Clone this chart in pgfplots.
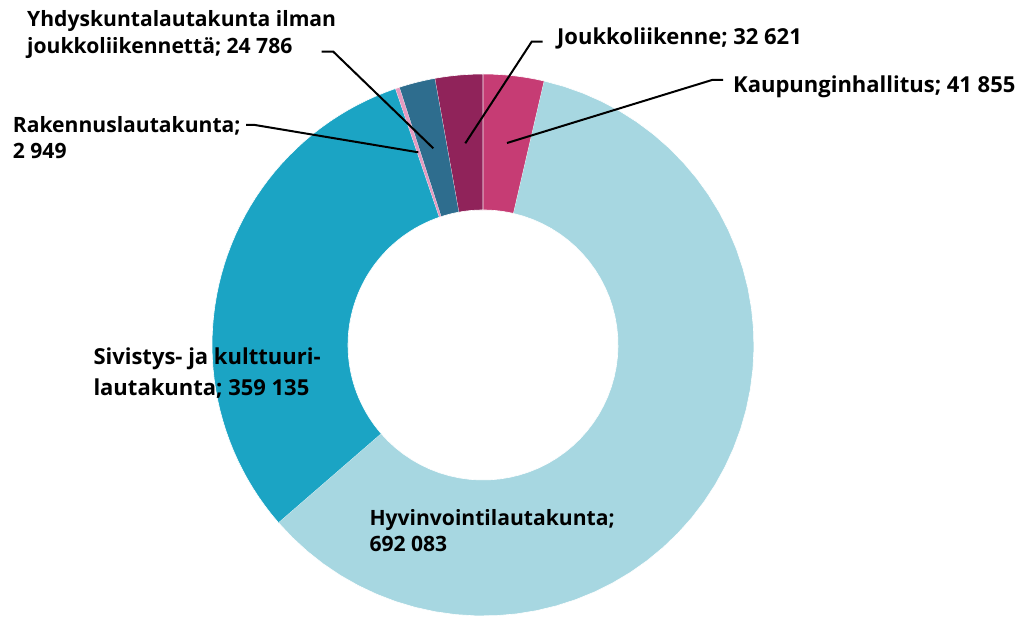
\documentclass[border=0pt]{standalone}
\usepackage{fontspec}
\setmainfont{Open Sans}
\usepackage{pgfplots}
\pgfplotsset{compat=1.18}
\usepackage{pgfplotstable}

\definecolor{cKaup}{HTML}{C63C74}
\definecolor{cHyv}{HTML}{A7D7E1}
\definecolor{cSiv}{HTML}{1BA4C4}
\definecolor{cRak}{HTML}{E59BC0}
\definecolor{cYhd}{HTML}{2E6D8E}
\definecolor{cJouk}{HTML}{90235A}

\pgfplotstableread{
label value
Kaupunginhallitus 41855
Hyvinvointilautakunta 692083
Sivistys 359135
Rakennus 2949
Yhdyskunta 24786
Joukkoliikenne 32621
}\datatable

\pgfplotstablegetelem{0}{value}\of\datatable \edef\vA{\pgfplotsretval}
\pgfplotstablegetelem{1}{value}\of\datatable \edef\vB{\pgfplotsretval}
\pgfplotstablegetelem{2}{value}\of\datatable \edef\vC{\pgfplotsretval}
\pgfplotstablegetelem{3}{value}\of\datatable \edef\vD{\pgfplotsretval}
\pgfplotstablegetelem{4}{value}\of\datatable \edef\vE{\pgfplotsretval}
\pgfplotstablegetelem{5}{value}\of\datatable \edef\vF{\pgfplotsretval}
\edef\tot{\fpeval{\vA+\vB+\vC+\vD+\vE+\vF}}
\edef\aO{90}
\edef\aA{\fpeval{round(90-360*(\vA)/\tot,4)}}
\edef\aB{\fpeval{round(90-360*(\vA+\vB)/\tot,4)}}
\edef\aC{\fpeval{round(90-360*(\vA+\vB+\vC)/\tot,4)}}
\edef\aD{\fpeval{round(90-360*(\vA+\vB+\vC+\vD)/\tot,4)}}
\edef\aE{\fpeval{round(90-360*(\vA+\vB+\vC+\vD+\vE)/\tot,4)}}
\edef\aF{-270}

\def\cx{483}\def\cy{271}\def\Ro{271}\def\Ri{135}
\newcommand{\slice}[3]{%
  \addplot[fill=#3, draw=white, line width=0.6pt, domain=0:101, samples=102]
  ({\cx+((x<50.5)*\Ro+(x>50.5)*\Ri)*cos((#1)+((x<50.5)*x/50+(x>50.5)*(101-x)/50)*((#2)-(#1)))},
   {\cy+((x<50.5)*\Ro+(x>50.5)*\Ri)*sin((#1)+((x<50.5)*x/50+(x>50.5)*(101-x)/50)*((#2)-(#1)))});
}
\tikzset{lbl/.style={font=\bfseries\fontsize{22}{26}\selectfont, anchor=base west, inner sep=0pt, text=black},
  lbls/.style={lbl, font=\bfseries\fontsize{21.1}{25}\selectfont}}

\begin{document}
\begin{tikzpicture}
\begin{axis}[scale only axis, width=1022pt, height=616pt,
  xmin=0, xmax=1022, ymin=0, ymax=616, hide axis, clip=false]
\path (axis cs:0,0) rectangle (axis cs:1022,616);
\begin{scope}
\clip (axis cs:0,0) rectangle (axis cs:1022,616);
\slice{\aO}{\aA}{cKaup}
\slice{\aA}{\aB}{cHyv}
\slice{\aB}{\aC}{cSiv}
\slice{\aC}{\aD}{cRak}
\slice{\aD}{\aE}{cYhd}
\slice{\aE}{\aF}{cJouk}
\end{scope}
% leader lines
\draw[black, line width=2pt] (axis cs:507,473) -- (axis cs:712,536) -- (axis cs:723,536);
\draw[black, line width=2pt] (axis cs:465.3,472.7) -- (axis cs:531.7,574.3) -- (axis cs:542.7,574.3);
\draw[black, line width=2pt] (axis cs:433.3,467.7) -- (axis cs:333.3,564.3) -- (axis cs:321.7,564.3);
\draw[black, line width=2pt] (axis cs:418.3,463.7) -- (axis cs:255,491) -- (axis cs:246,491);
% labels
\node[lbl] at (axis cs:733,523) {Kaupunginhallitus; 41 855};
\node[lbl] at (axis cs:557,571) {Joukkoliikenne; 32 621};
\node[lbls] at (axis cs:27,589) {Yhdyskuntalautakunta ilman};
\node[lbls] at (axis cs:27,562.5) {joukkoliikennettä; 24 786};
\node[lbls] at (axis cs:12.7,483) {Rakennuslautakunta;};
\node[lbls] at (axis cs:12.7,457.5) {2 949};
\node[lbl] at (axis cs:93.3,251) {Sivistys- ja kulttuuri-};
\node[lbl] at (axis cs:93.3,220) {lautakunta; 359 135};
\node[lbls] at (axis cs:369.3,91) {Hyvinvointilautakunta;};
\node[lbls] at (axis cs:369.3,64.3) {692 083};
\end{axis}
\end{tikzpicture}
\end{document}
